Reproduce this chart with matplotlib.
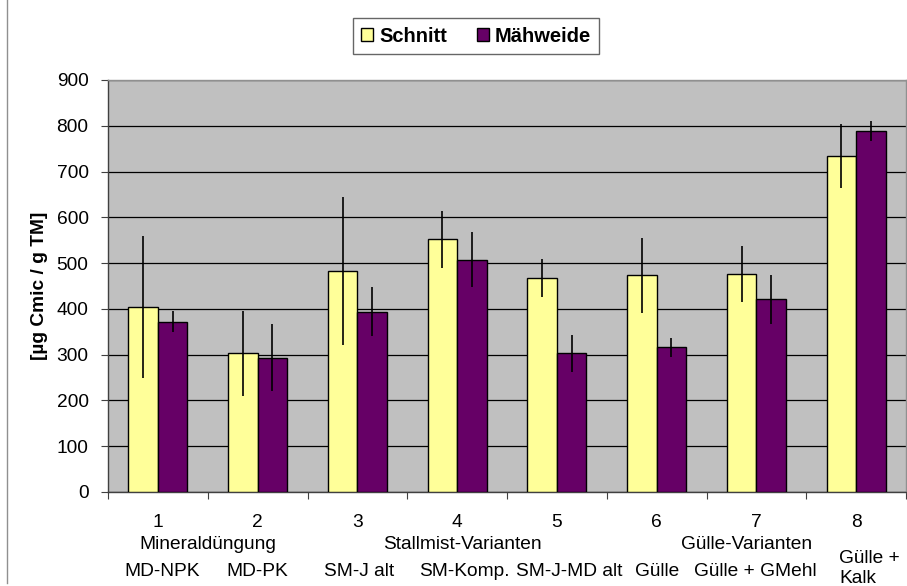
import numpy as np
import matplotlib
matplotlib.use("Agg")
import matplotlib.pyplot as plt
from matplotlib.lines import Line2D

plt.rcParams['font.family'] = ['Liberation Sans', 'DejaVu Sans']

# data
numbers = ["1", "2", "3", "4", "5", "6", "7", "8"]
names = ["MD-NPK", "MD-PK", "SM-J alt", "SM-Komp.", "SM-J-MD alt",
         "Gülle", "Gülle + GMehl", "Gülle +\nKalk"]
groups = ["Mineraldüngung", "Stallmist-Varianten", "Gülle-Varianten"]
schnitt = [405, 303, 483, 552, 467, 473, 477, 734]
schnitt_err = [155, 93, 162, 62, 42, 81, 61, 70]
maehweide = [372, 293, 394, 507, 303, 316, 421, 788]
maehweide_err = [23, 73, 53, 60, 40, 21, 53, 22]

# label positions (category units)
group_pos = [0.5, 3.05, 5.9]
name_pos = [0.04, 1.0, 2.02, 3.07, 4.12, 5.01, 5.99, 6.83]

fs = 13.8

fig = plt.figure(figsize=(9.07, 5.86), dpi=100)
ax = fig.add_axes([108/907, 1-492/586, 798/907, 412/586])

x = np.arange(len(numbers))
w = 0.295
ax.bar(x - w/2, schnitt, w, color='#FFFF99', edgecolor='black', linewidth=1.0,
       label='Schnitt', zorder=3)
ax.bar(x + w/2, maehweide, w, color='#660066', edgecolor='black', linewidth=1.0,
       label='Mähweide', zorder=3)
ax.errorbar(x - w/2, schnitt, yerr=schnitt_err, fmt='none', ecolor='black',
            elinewidth=1.2, capsize=0, zorder=4)
ax.errorbar(x + w/2, maehweide, yerr=maehweide_err, fmt='none', ecolor='black',
            elinewidth=1.2, capsize=0, zorder=4)

ax.set_facecolor('#C0C0C0')
ax.set_xlim(-0.5, len(numbers) - 0.5)
ax.set_ylim(0, 900)
ax.set_yticks(np.arange(0, 901, 100))
ax.yaxis.grid(True, color='black', linewidth=0.9, zorder=0)
ax.set_axisbelow(True)

# category ticks at boundaries, labels via minor ticks
ax.set_xticks(np.arange(-0.5, len(numbers), 1.0))
ax.set_xticklabels([])
ax.set_xticks(x, minor=True)
ax.set_xticklabels(numbers, minor=True)
ax.tick_params(axis='x', which='major', direction='out', length=5, color='#404040')
ax.tick_params(axis='x', which='minor', length=0, pad=16, labelsize=fs)
ax.tick_params(axis='y', direction='out', length=5, pad=9, labelsize=fs, color='#404040')

for s in ['top', 'right']:
    ax.spines[s].set_color('#909090')
    ax.spines[s].set_linewidth(1.0)
for s in ['left', 'bottom']:
    ax.spines[s].set_color('#404040')
    ax.spines[s].set_linewidth(1.0)

trans = ax.get_xaxis_transform()
for g, p in zip(groups, group_pos):
    ax.text(p, -0.128, g, transform=trans, ha='center', va='center', fontsize=fs)
for n, p in zip(names, name_pos):
    if "\n" in n:
        ax.text(p, -0.185, n, transform=trans, ha='left', va='center',
                fontsize=fs, linespacing=1.2)
    else:
        ax.text(p, -0.193, n, transform=trans, ha='center', va='center', fontsize=fs)

ax.set_ylabel('[µg Cmic / g TM]', fontsize=13.8, fontweight='bold', labelpad=6)

leg = fig.legend(loc='center', bbox_to_anchor=(476/907, 1-36/586), ncol=2,
                 prop={'weight': 'bold', 'size': 14.5}, frameon=True, fancybox=False,
                 handlelength=0.6, handleheight=0.6, handletextpad=0.3,
                 columnspacing=1.5, borderpad=0.4)
leg.get_frame().set_edgecolor('#404040')
leg.get_frame().set_linewidth(1.0)

fig.add_artist(Line2D([7/907, 7/907], [1-583/586, 1], transform=fig.transFigure,
                      color='#909090', linewidth=1.0))

fig.savefig('out.png', dpi=100)
